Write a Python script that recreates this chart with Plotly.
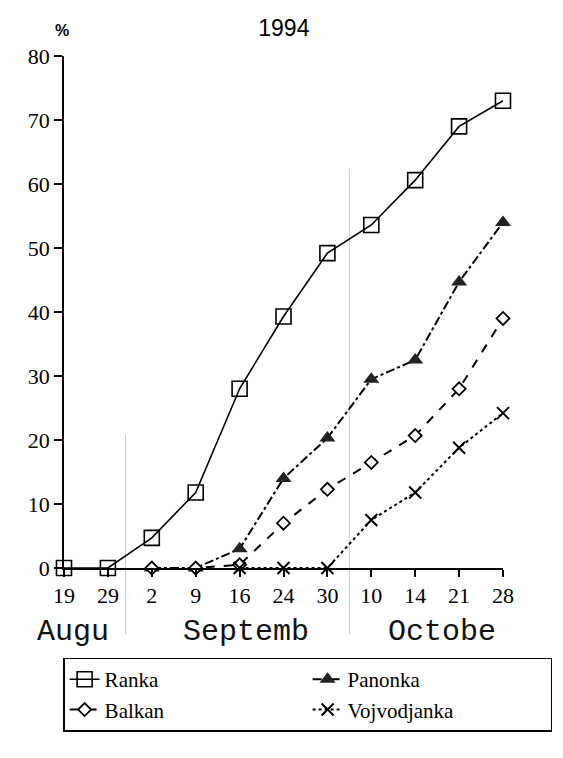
import plotly.graph_objects as go

dates = ["19", "29", "2", "9", "16", "24", "30", "10", "14", "21", "28"]
x_pos = list(range(len(dates)))

ranka = [0, 0, 4.7, 11.8, 28, 39.3, 49.2, 53.6, 60.6, 69, 73]
panonka = [None, None, 0, 0, 3, 14, 20.3, 29.5, 32.5, 44.7, 54]
balkan = [None, None, 0, 0, 0.5, 7, 12.3, 16.5, 20.7, 28, 39]
vojvodjanka = [None, None, None, None, 0, 0, 0, 7.5, 11.8, 18.8, 24.2]

series_names = ["Ranka", "Panonka", "Balkan", "Vojvodjanka"]

months = ["Augu", "Septemb", "Octobe"]
month_centers = [0.2, 4.15, 8.6]

y_ticks = [0, 10, 20, 30, 40, 50, 60, 70, 80]

serif = "Liberation Serif"
sans = "Liberation Sans"
mono = "Liberation Mono"

fig = go.Figure()

fig.add_trace(go.Scatter(
    x=x_pos, y=ranka, name=series_names[0], mode="lines+markers",
    line=dict(color="black", width=1.6),
    marker=dict(symbol="square-open", size=15, color="black", line=dict(width=1.6)),
    cliponaxis=False,
))
fig.add_trace(go.Scatter(
    x=x_pos, y=panonka, name=series_names[1], mode="lines+markers",
    line=dict(color="black", width=2, dash="dashdot"),
    marker=dict(symbol="triangle-up", size=14, color="#222"),
    cliponaxis=False,
))
fig.add_trace(go.Scatter(
    x=x_pos, y=balkan, name=series_names[2], mode="lines+markers",
    line=dict(color="black", width=2, dash="dash"),
    marker=dict(symbol="diamond", size=10, color="white", line=dict(color="black", width=1.8)),
    cliponaxis=False,
))
fig.add_trace(go.Scatter(
    x=x_pos, y=vojvodjanka, name=series_names[3], mode="lines+markers",
    line=dict(color="black", width=2, dash="dot"),
    marker=dict(symbol="x-thin", size=12, color="black", line=dict(color="black", width=2)),
    cliponaxis=False,
))

# faint month separators (as in the scan)
for xs, y0, y1 in [(1.4, 0.26, -0.13), (6.5, 0.78, -0.13)]:
    fig.add_shape(type="line", xref="x", yref="paper", x0=xs, x1=xs, y0=y0, y1=y1,
                  line=dict(color="#c8c8c8", width=1), layer="below")

for m, c in zip(months, month_centers):
    fig.add_annotation(x=c, y=-0.125, xref="x", yref="paper", text=m, showarrow=False,
                       font=dict(family=mono, size=30, color="#111"), yanchor="middle")

fig.add_annotation(x=0, y=1.03, xref="paper", yref="paper", text="<b>%</b>", showarrow=False,
                   xshift=-2, font=dict(family=sans, size=16, color="black"),
                   yanchor="bottom", xanchor="center")

fig.update_layout(
    width=563, height=758,
    margin=dict(l=56, r=68, t=48, b=198),
    paper_bgcolor="white", plot_bgcolor="white",
    title=dict(text="1994", x=0.49, xanchor="center", y=0.974, yanchor="middle",
               font=dict(family=sans, size=23, color="black")),
    showlegend=True,
    legend=dict(
        orientation="h", x=-0.002, xanchor="left", y=-0.175, yanchor="top",
        bordercolor="black", borderwidth=1.5,
        font=dict(family=serif, size=21, color="black"),
        entrywidth=198, entrywidthmode="pixels",
        traceorder="normal",
    ),
    xaxis=dict(
        range=[0, 10], tickvals=x_pos, ticktext=dates,
        showline=True, linecolor="black", linewidth=1.6,
        ticks="outside", ticklen=7, tickwidth=1.6, tickcolor="black",
        showgrid=False, zeroline=False,
        tickfont=dict(family=serif, size=22, color="black"),
    ),
    xaxis2=dict(
        range=[0, 10], tickvals=x_pos, overlaying="x", anchor="y",
        showline=False, ticks="inside", ticklen=7, tickwidth=1.6, tickcolor="black",
        showticklabels=False, showgrid=False, zeroline=False, side="bottom",
    ),
    yaxis=dict(
        range=[0, 80], tickvals=y_ticks,
        showline=True, linecolor="black", linewidth=1.6,
        ticks="outside", ticklen=8, tickwidth=1.6, tickcolor="black",
        showgrid=False, zeroline=False,
        tickfont=dict(family=serif, size=22, color="black"),
    ),
    yaxis2=dict(
        range=[0, 80], tickvals=y_ticks, overlaying="y", anchor="x",
        showline=False, ticks="inside", ticklen=8, tickwidth=1.6, tickcolor="black",
        showticklabels=False, showgrid=False, zeroline=False, side="left",
    ),
)

fig.write_html("out.html")
